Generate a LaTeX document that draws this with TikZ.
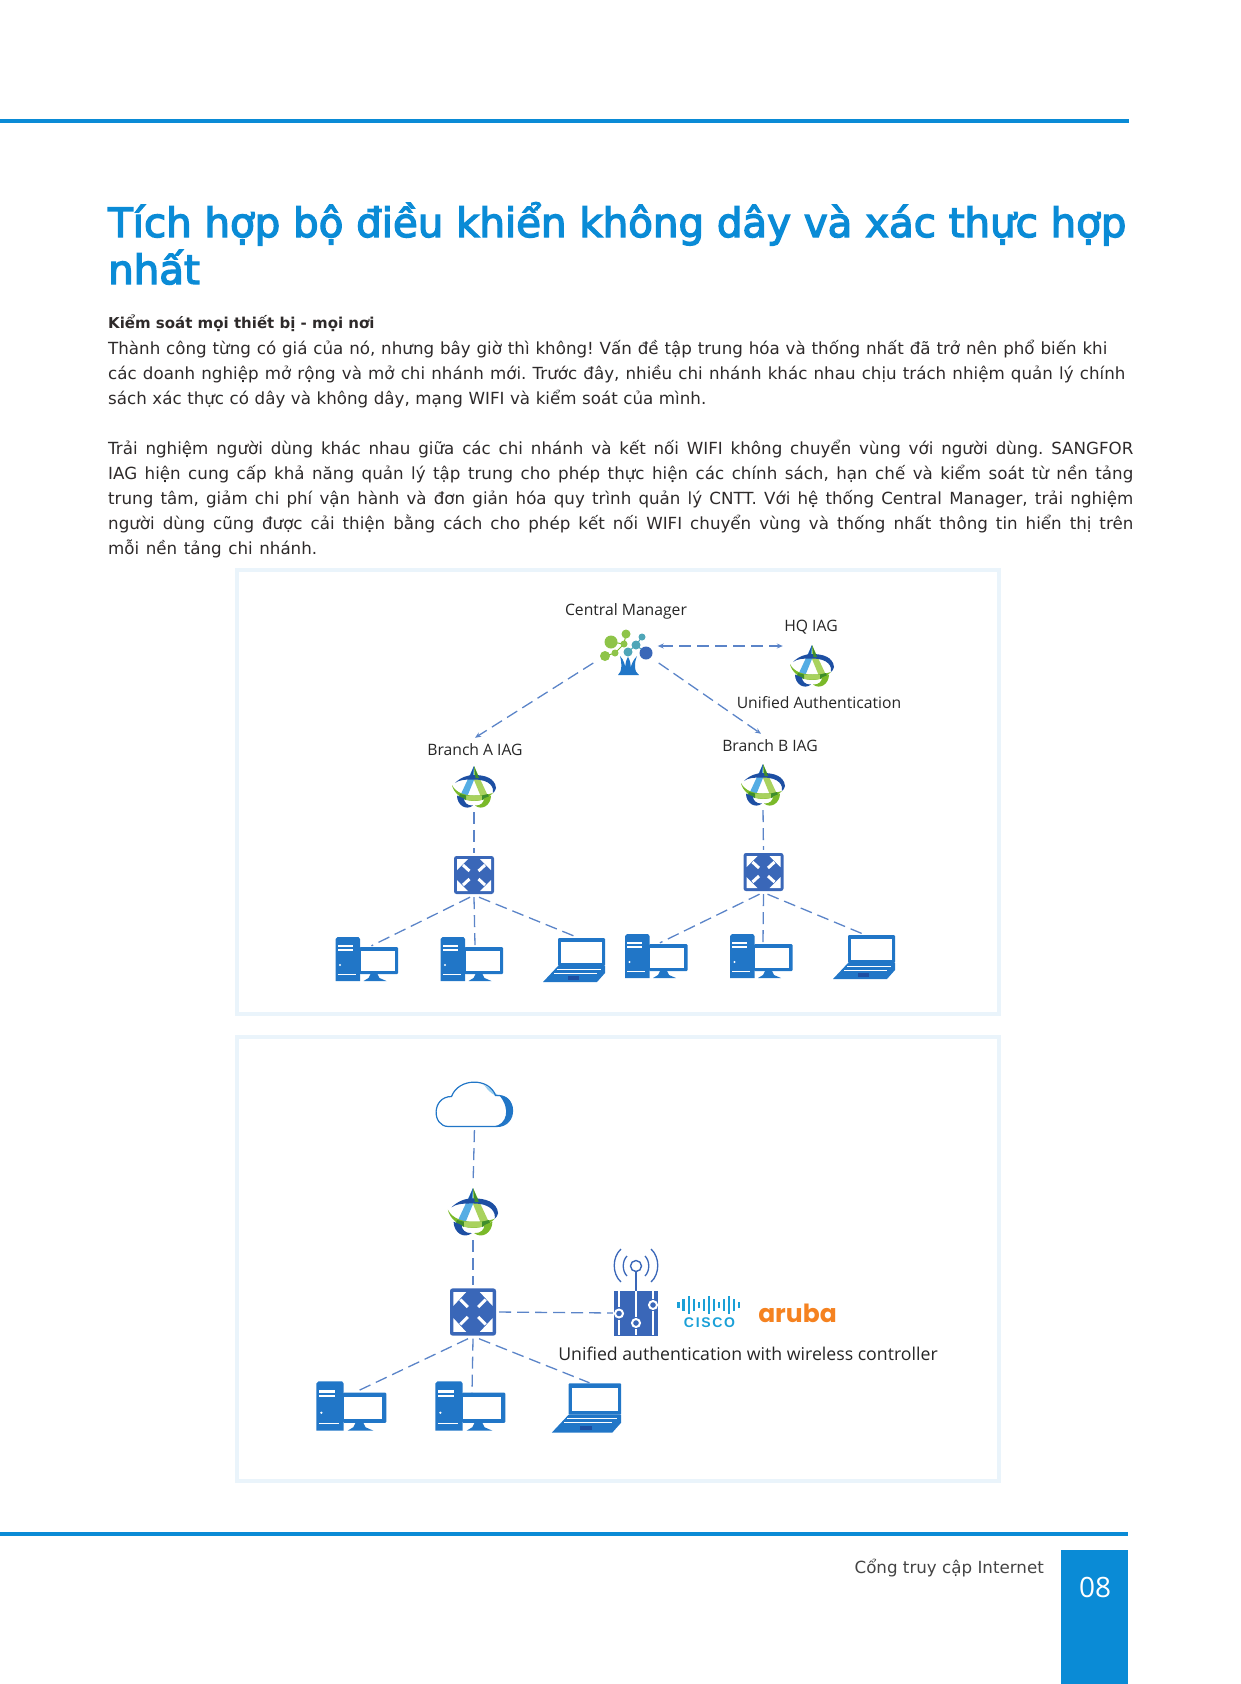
\documentclass[tikz,border=0pt]{standalone}
\usepackage{fontspec}
\setmainfont{DejaVu Sans}
\newfontfamily\nhanfont{Open Sans}
\newfontfamily\tieudefont[FakeBold=3.5]{DejaVu Sans}
\newfontfamily\ciscofont[LetterSpace=12]{Liberation Sans}
\newfontfamily\arubafont{Poppins}
\usepackage{tikz}
\usetikzlibrary{arrows.meta}
\frenchspacing
\definecolor{xanh}{HTML}{0A8BD6}
\definecolor{khungnhat}{HTML}{EAF4FB}
\definecolor{net}{HTML}{5B84C8}
\definecolor{chu}{HTML}{2E2A2A}
\definecolor{xam}{HTML}{444444}
\definecolor{dam}{HTML}{3A67B8}
\definecolor{may}{HTML}{2176C7}
\definecolor{bluedam}{HTML}{1D4FA3}
\definecolor{bluenhat}{HTML}{55ADE4}
\definecolor{luc}{HTML}{7AB929}
\definecolor{lucnhat}{HTML}{A9D25E}
\definecolor{lucdam}{HTML}{3E8E2C}
\definecolor{ngoc}{HTML}{4FA6B8}
\definecolor{cisco}{HTML}{1BA0D7}
\definecolor{cam}{HTML}{F58220}
\newcommand{\dongdeu}[2]{\makebox[#1pt][s]{#2}}
\tikzset{
  dongchu/.style={anchor=base west, inner sep=0pt, text=chu, font=\fontsize{16.7}{18}\selectfont},
  nhan/.style={inner sep=0pt, text=black!85, font=\nhanfont\fontsize{15.7}{18}\selectfont},
  khung/.style={draw=khungnhat, line width=4pt, minimum width=762pt, minimum height=444pt},
  iagbox/.style={minimum size=44pt, inner sep=0pt},
  swbox/.style={minimum width=40pt, minimum height=38pt, inner sep=0pt},
  pcbox/.style={minimum width=63pt, minimum height=44pt, inner sep=0pt},
  daynet/.style={net, line width=1.3pt, dash pattern=on 12pt off 6pt},
  muitennet/.style={daynet, -{Stealth[length=6pt,width=5pt]}},
  iagicon/.pic={
    \fill[bluenhat] (0,-21) -- (-14,9) -- (-7,10) -- (0,-7) -- cycle;
    \fill[lucnhat] (0,-21) -- (14,9) -- (7,10) -- (0,-7) -- cycle;
    \fill[bluedam] (-19,-4) .. controls (-13,-10) and (-6,-12) .. (0,-12) .. controls (11,-12) and (21,-9) .. (22,1) .. controls (22,3) and (20,5) .. (19,6) .. controls (20,1) and (17,-7.5) .. (0,-7.5) .. controls (-10,-7.5) and (-15,-7) .. (-19,-4) -- cycle;
    \fill[bluedam] (0,-21) -- (-5,-9) -- (-1.5,-9) -- cycle;
    \fill[lucdam] (0,-21) -- (5,-9) -- (1.5,-9) -- cycle;
    \fill[luc] (-22,-2) .. controls (-21,5) and (-12,14) .. (0,14) .. controls (8,14) and (14,11) .. (19,6) .. controls (13,8) and (7,8.5) .. (0,8.5) .. controls (-9,8.5) and (-18,6) .. (-22,-2) -- cycle;
    \fill[lucnhat] (-8,8.5) .. controls (-4,8.5) and (4,8.5) .. (8,8.5) -- (8,13) .. controls (4,14) and (-4,14) .. (-8,13) -- cycle;
    \fill[lucdam] (-14,7) -- (-8,8.5) -- (-8,13) -- (-15,10) -- cycle;
    \fill[lucdam] (14,7) -- (8,8.5) -- (8,13) -- (15,10) -- cycle;
    \fill[bluedam] (-17,8.5) .. controls (-17,18) and (-8,24) .. (-1,18.5) .. controls (-7,19) and (-10,15) .. (-10,11.5) -- cycle;
    \fill[luc] (17,8.5) .. controls (17,18) and (8,24) .. (1,18.5) .. controls (7,19) and (10,15) .. (10,11.5) -- cycle;
  },
  swicon/.pic={
    \fill[dam, rounded corners=2.5pt] (-20,-19) rectangle (20,19);
    \foreach \sx/\sy in {1/1,1/-1,-1/1,-1/-1} {
      \fill[white] (\sx*17,\sy*16) -- (\sx*17,\sy*5) -- (\sx*6,\sy*16) -- cycle;
      \draw[white, line width=3pt] (\sx*4.5,\sy*4) -- (\sx*11,\sy*10);
    }
  },
  pcicon/.pic={
    \fill[may] (-29,-22) -- (-8,-22) -- (-6.5,-20) -- (-6.5,22) -- (-31,22) -- (-31,-20) -- cycle;
    \fill[white] (-29,-14) rectangle (-14,-12);
    \fill[white] (-29,-10) rectangle (-14,-8);
    \fill[white] (-26.5,6) circle (1.1);
    \draw[white, line width=0.6pt] (-29,15) -- (-11,15);
    \fill[may, rounded corners=1pt] (-7,-12) rectangle (31.5,15);
    \fill[white] (-6,-8) rectangle (28,12);
    \fill[may] (4,15) -- (11,15) -- (13,19) -- (20,22) -- (-3,22) -- (2,19) -- cycle;
  },
  lapicon/.pic={
    \fill[may, rounded corners=1pt] (-16,-22) rectangle (31,6);
    \fill[white] (-13,-18) rectangle (28,3);
    \fill[may] (-16,6) -- (31,6) -- (31,13) -- (23,22) -- (-31,22) -- cycle;
    \draw[white, line width=0.5pt] (-17,9) -- (27,9);
    \draw[white, line width=0.5pt] (-20,13) -- (23,13);
    \fill[bluedam] (-6,16) rectangle (5,20);
  },
  cloudicon/.pic={
    \fill[white] (-26,22) .. controls (-43,22) and (-43,-8) .. (-23,-8) .. controls (-16,-27) and (15,-27) .. (21,-9) .. controls (43,-11) and (44,22) .. (22,22) -- cycle;
    \fill[bluenhat!60] (8,-20) .. controls (14,-17) and (19,-13) .. (21,-9) -- (24,-9) .. controls (22,-10) and (16,-17) .. (8,-20) -- cycle;
    \fill[bluenhat!60] (10,-19) .. controls (14,-13) and (20,-8) .. (25,-8) -- (21,-9) .. controls (19,-13) and (15,-17) .. (10,-19) -- cycle;
    \fill[may] (25,-9) .. controls (43,-9) and (43,21) .. (22,22) -- (19,22) .. controls (33,20) and (36,4) .. (25,-9) -- cycle;
    \draw[may, line width=1.2pt] (-26,22) .. controls (-43,22) and (-43,-8) .. (-23,-8) .. controls (-16,-27) and (15,-27) .. (21,-9) .. controls (43,-11) and (44,22) .. (22,22) -- cycle;
  },
  treeicon/.pic={
    \draw[luc, line width=1pt] (-16,-11) -- (-3,-9) -- (-1,-19) (-22,3) -- (-12,0) -- (-3,-9);
    \draw[ngoc, line width=1pt] (1,-1) -- (9,-8) -- (15,-16) (9,-8) -- (19,0);
    \foreach \cx/\cy/\r in {-16/-11/6.5, -1/-19/4.5, -3/-9/3.5, -12/0/3.5, -22/3/5}
      \fill[luc!85] (\cx,\cy) circle (\r);
    \foreach \cx/\cy/\r in {9/-8/4.5, 15/-16/3.5, 1/-1/4.5}
      \fill[ngoc] (\cx,\cy) circle (\r);
    \fill[dam] (19,0) circle (6.5);
    \fill[may] (-9,22) .. controls (-5,19) and (-5,10) .. (-7,3) .. controls (-3,7) and (-2,12) .. (-1.5,16) .. controls (-2,11) and (-1,7) .. (1,4) .. controls (3,7) and (4,11) .. (3.5,16) .. controls (4,12) and (6,7) .. (10,3) .. controls (7,10) and (7,19) .. (12,22) -- cycle;
  },
  ctrlicon/.pic={
    \fill[dam] (-22,-22.5) rectangle (22,22.5);
    \foreach \vx/\vt/\vb in {-17/-6/7, 0/4/16, 17/-14/-2} {
      \draw[white, line width=2.4pt] (\vx,-22) -- (\vx,\vt) (\vx,\vb) -- (\vx,22);
      \draw[white, fill=dam, line width=2pt] (\vx,{(\vt+\vb)/2}) circle (4);
    }
    \draw[dam, line width=1.4pt] (0,-22.5) -- (0,-42);
    \draw[dam, line width=1.4pt] (0,-47) circle (5.5);
    \draw[dam, line width=1.3pt] (-9,-57) .. controls (-14,-52) and (-14,-42) .. (-9,-37) (9,-57) .. controls (14,-52) and (14,-42) .. (9,-37);
    \draw[dam, line width=1.3pt] (-15,-64) .. controls (-24,-56) and (-24,-39) .. (-15,-31) (15,-64) .. controls (24,-56) and (24,-39) .. (15,-31);
  },
}
\begin{document}
\begin{tikzpicture}[x=1pt, y=-1pt]
  \useasboundingbox (0,0) rectangle (1241,1684);
  \fill[xanh] (0,119) rectangle (1129,123);
  \fill[xanh] (0,1532) rectangle (1128,1536);
  \fill[xanh] (1061,1550) rectangle (1128,1684);
  \node[anchor=base west, inner sep=0pt, text=xanh, font=\tieudefont\fontsize{40.3}{44}\selectfont] (tieude1) at (108,237) {Tích hợp bộ điều khiển không dây và xác thực hợp};
  \node[anchor=base west, inner sep=0pt, text=xanh, font=\tieudefont\fontsize{40.3}{44}\selectfont] (tieude2) at (108,284) {nhất};
  \node[dongchu, font=\bfseries\fontsize{15}{18}\selectfont] (phu) at (108,328) {Kiểm soát mọi thiết bị - mọi nơi};
  \node[dongchu] (p1) at (108,354) {\dongdeu{999}{Thành công từng có giá của nó, nhưng bây giờ thì không! Vấn đề tập trung hóa và thống nhất đã trở nên phổ biến khi}};
  \node[dongchu] (p2) at (108,379) {\dongdeu{1017}{các doanh nghiệp mở rộng và mở chi nhánh mới. Trước đây, nhiều chi nhánh khác nhau chịu trách nhiệm quản lý chính}};
  \node[dongchu] (p3) at (108,404) {\dongdeu{598}{sách xác thực có dây và không dây, mạng WIFI và kiểm soát của mình.}};
  \node[dongchu] (q1) at (108,454) {\dongdeu{1025}{Trải nghiệm người dùng khác nhau giữa các chi nhánh và kết nối WIFI không chuyển vùng với người dùng. SANGFOR}};
  \node[dongchu] (q2) at (108,479) {\dongdeu{1025}{IAG hiện cung cấp khả năng quản lý tập trung cho phép thực hiện các chính sách, hạn chế và kiểm soát từ nền tảng}};
  \node[dongchu] (q3) at (108,504) {\dongdeu{1025}{trung tâm, giảm chi phí vận hành và đơn giản hóa quy trình quản lý CNTT. Với hệ thống Central Manager, trải nghiệm}};
  \node[dongchu] (q4) at (108,529) {\dongdeu{1025}{người dùng cũng được cải thiện bằng cách cho phép kết nối WIFI chuyển vùng và thống nhất thông tin hiển thị trên}};
  \node[dongchu] (q5) at (108,554) {\dongdeu{209}{mỗi nền tảng chi nhánh.}};
  \node[khung] (f1) at (618,792) {};
  \node[khung] (f2) at (618,1259) {};
  \node[nhan] (lman) at (626,611) {Central Manager};
  \node[nhan] (lhq) at (811,627) {HQ IAG};
  \node[nhan] (luni) at (819,703) {Unified Authentication};
  \node[nhan] (lA) at (475,750) {Branch A IAG};
  \node[nhan] (lB) at (770,746) {Branch B IAG};
  \node[minimum width=53pt, minimum height=45pt, inner sep=0pt] (tree) at (627,653) {};
  \pic at (tree) {treeicon};
  \foreach \n/\x/\y in {hq/812/666, iagA/474/787, iagB/763/785} {
    \node[iagbox] (\n) at (\x,\y) {};
    \pic at (\n) {iagicon};
  }
  \foreach \n/\x/\y in {swA/474/875, swB/763.5/872} {
    \node[swbox] (\n) at (\x,\y) {};
    \pic at (\n) {swicon};
  }
  \foreach \n/\x/\y in {pcA1/366.5/959, pcA2/471.5/959, pcB1/656/956, pcB2/761/956} {
    \node[pcbox] (\n) at (\x,\y) {};
    \pic at (\n) {pcicon};
  }
  \foreach \n/\x/\y in {lapA/574/960, lapB/864/957} {
    \node[pcbox] (\n) at (\x,\y) {};
    \pic at (\n) {lapicon};
  }
  \draw[muitennet, {Stealth[length=6pt,width=5pt]}-{Stealth[length=6pt,width=5pt]}] ([xshift=4pt,yshift=7pt]tree.east) -- ([xshift=-7pt,yshift=20pt]hq.west);
  \draw[muitennet] ([xshift=-7pt,yshift=-10pt]tree.west) -- ([yshift=6pt]lA.north);
  \draw[muitennet] ([xshift=5pt,yshift=-10pt]tree.east) -- ([xshift=-9pt,yshift=6pt]lB.north);
  \node[minimum width=77pt, minimum height=45pt, inner sep=0pt] (cloud) at (474.5,1104.5) {};
  \pic at (cloud) {cloudicon};
  \node[iagbox, minimum size=50pt] (iagC) at (473,1212) {};
  \pic[scale=1.14] at (iagC) {iagicon};
  \node[swbox, minimum width=46pt, minimum height=47pt] (swC) at (473,1312) {};
  \pic[xscale=1.15, yscale=1.24] at (swC) {swicon};
  \node[pcbox, minimum width=70pt, minimum height=50pt] (pcC1) at (351,1406) {};
  \pic[scale=1.12] at (pcC1) {pcicon};
  \node[pcbox, minimum width=70pt, minimum height=50pt] (pcC2) at (470,1406) {};
  \pic[scale=1.12] at (pcC2) {pcicon};
  \node[pcbox, minimum width=70pt, minimum height=50pt] (lapC) at (586.5,1408) {};
  \pic[scale=1.12] at (lapC) {lapicon};
  \node[minimum width=44pt, minimum height=45pt, inner sep=0pt] (ctrl) at (636,1313) {};
  \pic at (ctrl) {ctrlicon};
  \foreach \i in {0,...,12} {
    \pgfmathsetmacro{\h}{mod(\i,4)==0 ? 3 : (mod(\i,4)==2 ? 9 : 6)}
    \fill[cisco] ({678.5+\i*5.05-1.1},{1305-\h}) rectangle ({678.5+\i*5.05+1.1},{1305+\h});
  }
  \node[inner sep=0pt, text=cisco, font=\ciscofont\bfseries\fontsize{14}{14}\selectfont] (lcisco) at (709.5,1323) {CISCO};
  \node[inner sep=0pt, text=cam, font=\arubafont\bfseries\fontsize{25}{30}\selectfont] (laruba) at (797.5,1313) {aruba};
  \node[nhan, font=\nhanfont\fontsize{17.7}{20}\selectfont] (lunified) at (748,1354) {Unified authentication with wireless controller};
  \foreach \a/\b in {iagA/swA,iagB/swB,cloud/iagC,iagC/swC} \draw[daynet, shorten <=3pt, shorten >=3pt] (\a.south) -- (\b.north);
  \draw[daynet, shorten <=3pt, shorten >=1pt] (swC.east) -- (ctrl.west);
  \foreach \a/\b/\p/\q/\r in {swA/pcA1/-4/5/-9, swA/pcA2/0/3.5/-9, swA/lapA/5/2/1, swB/pcB1/-4/4/-9, swB/pcB2/0/2/-9, swB/lapB/4/1/0, swC/pcC1/-5/5/-11, swC/pcC2/0/2/-12, swC/lapC/6/3/0}
    \draw[daynet] ([xshift=\p pt,yshift=-3pt]\a.south) -- ([xshift=\q pt,yshift=\r pt]\b.north);
  \node[inner sep=0pt, anchor=base east, text=xam, font=\fontsize{16.7}{18}\selectfont] (lchan) at (1044,1573) {Cổng truy cập Internet};
  \node[inner sep=0pt, text=white, font=\nhanfont\fontsize{28}{30}\selectfont] (lso) at (1095,1587) {08};
\end{tikzpicture}
\end{document}
